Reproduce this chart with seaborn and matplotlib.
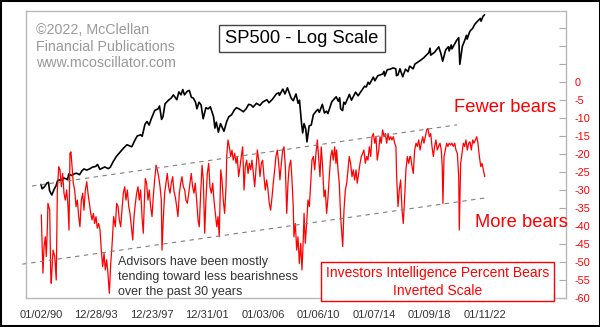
import matplotlib
matplotlib.use("Agg")
import matplotlib.pyplot as plt
from matplotlib.patches import Rectangle
import seaborn as sns
import pandas as pd

# ---------------- data ----------------
# Investors Intelligence % bears, inverted (decimal year, value)
bears_t = [
    1990.02, 1990.14, 1990.22, 1990.31, 1990.38, 1990.46, 1990.50, 1990.63, 1990.70, 1990.74,
    1990.87, 1990.99, 1991.10, 1991.18, 1991.28, 1991.37, 1991.47, 1991.56, 1991.66, 1991.75,
    1991.85, 1991.95, 1992.02, 1992.09, 1992.16, 1992.24, 1992.33, 1992.43, 1992.53, 1992.62,
    1992.72, 1992.81, 1992.91, 1993.01, 1993.10, 1993.20, 1993.30, 1993.39, 1993.49, 1993.59,
    1993.68, 1993.78, 1993.87, 1993.97, 1994.06, 1994.16, 1994.26, 1994.35, 1994.45, 1994.55,
    1994.64, 1994.74, 1994.83, 1994.93, 1995.03, 1995.12,
    1995.24, 1995.36, 1995.46, 1995.56, 1995.65, 1995.75, 1995.84, 1995.94, 1996.04, 1996.13,
    1996.23, 1996.33, 1996.42, 1996.52, 1996.62, 1996.71, 1996.81, 1996.90, 1997.00, 1997.09,
    1997.19, 1997.29, 1997.38, 1997.48, 1997.53, 1997.62, 1997.72, 1997.81, 1997.91, 1998.01,
    1998.10, 1998.20, 1998.30, 1998.39, 1998.49, 1998.59, 1998.68, 1998.73, 1998.82, 1998.92,
    1999.02, 1999.11, 1999.21, 1999.31, 1999.40, 1999.50, 1999.60, 1999.69, 1999.79, 1999.88,
    1999.98, 2000.08, 2000.17, 2000.27, 2000.37, 2000.46,
    2000.56, 2000.66, 2000.75, 2000.84, 2000.94, 2001.04, 2001.13, 2001.23, 2001.33, 2001.42,
    2001.52, 2001.62, 2001.71, 2001.81, 2001.90, 2002.00, 2002.10, 2002.19, 2002.29, 2002.39,
    2002.48, 2002.58, 2002.68, 2002.77, 2002.86, 2002.97, 2003.06, 2003.15, 2003.25, 2003.35,
    2003.40, 2003.49, 2003.59, 2003.69, 2003.78, 2003.87, 2003.98, 2004.07, 2004.16, 2004.26,
    2004.36, 2004.45, 2004.55, 2004.65, 2004.74, 2004.84, 2004.94, 2005.03, 2005.13, 2005.22,
    2005.32, 2005.42, 2005.51, 2005.61, 2005.71,
    2005.80, 2005.90, 2005.99, 2006.09, 2006.18, 2006.28, 2006.38, 2006.47, 2006.57, 2006.67,
    2006.76, 2006.86, 2006.95, 2007.05, 2007.15, 2007.24, 2007.34, 2007.44, 2007.53, 2007.63,
    2007.73, 2007.82, 2007.91, 2008.02, 2008.11, 2008.20, 2008.25, 2008.35, 2008.45, 2008.54,
    2008.64, 2008.74, 2008.83, 2008.93, 2008.98, 2009.07, 2009.17, 2009.26, 2009.36, 2009.46,
    2009.55, 2009.65, 2009.75, 2009.84, 2009.94, 2010.04, 2010.13, 2010.22, 2010.32, 2010.42,
    2010.51, 2010.61, 2010.71, 2010.80, 2010.90, 2011.00, 2011.09, 2011.19, 2011.28,
    2011.33, 2011.43, 2011.52, 2011.62, 2011.72, 2011.77, 2011.86, 2011.96, 2012.06, 2012.15,
    2012.24, 2012.34, 2012.44, 2012.53, 2012.63, 2012.73, 2012.82, 2012.92, 2013.02, 2013.11,
    2013.21, 2013.30, 2013.40, 2013.50, 2013.59, 2013.69, 2013.79, 2013.88, 2013.98, 2014.08,
    2014.17, 2014.26, 2014.37, 2014.46, 2014.55, 2014.65, 2014.75, 2014.84, 2014.94, 2015.04,
    2015.13, 2015.23, 2015.32, 2015.42, 2015.52, 2015.61, 2015.66, 2015.76, 2015.85, 2015.95,
    2016.05, 2016.14, 2016.24, 2016.33, 2016.43, 2016.53, 2016.62,
    2016.67, 2016.77, 2016.86, 2016.96, 2017.06, 2017.15, 2017.25, 2017.35, 2017.44, 2017.54,
    2017.63, 2017.73, 2017.83, 2017.92, 2018.02, 2018.12, 2018.21, 2018.31, 2018.40, 2018.50,
    2018.59, 2018.69, 2018.79, 2018.88, 2018.95, 2019.00, 2019.08, 2019.17, 2019.27, 2019.36,
    2019.46, 2019.56, 2019.65, 2019.75, 2019.85, 2019.94, 2020.04, 2020.14, 2020.18, 2020.23,
    2020.28, 2020.38, 2020.47, 2020.57, 2020.66, 2020.76, 2020.86, 2020.95, 2021.05, 2021.15,
    2021.24, 2021.34, 2021.44, 2021.53, 2021.63, 2021.73, 2021.82, 2021.92, 2022.02,
]
bears_v = [
    -36.9, -53.1, -45.7, -43.0, -48.5, -40.2, -33.7, -35.6, -53.1, -55.9,
    -46.7, -48.5, -55.0, -30.0, -23.5, -24.4, -29.1, -25.4, -30.9, -32.8,
    -30.0, -34.6, -41.1, -19.8, -19.4, -23.5, -28.1, -30.0, -34.6, -32.8,
    -37.4, -40.2, -32.8, -30.9, -35.6, -30.0, -27.7, -30.9, -33.7, -36.5,
    -38.3, -36.5, -39.3, -37.4, -40.6, -39.3, -41.1, -46.7, -51.3, -47.6,
    -52.2, -49.4, -53.1, -58.7, -50.4, -45.7,
    -37.4, -40.2, -33.7, -34.6, -38.3, -40.2, -35.6, -30.9, -29.1, -32.8,
    -30.0, -34.6, -36.5, -40.2, -43.9, -37.4, -33.7, -30.9, -29.1, -32.8,
    -30.0, -37.4, -42.0, -30.9, -26.8, -28.1, -32.8, -30.0, -34.6, -37.4,
    -31.9, -27.2, -23.1, -24.4, -26.3, -29.1, -32.8, -46.7, -38.3, -30.9,
    -28.1, -25.4, -29.1, -30.9, -28.1, -26.3, -30.5, -31.9, -34.6, -37.4,
    -30.9, -28.1, -26.3, -29.1, -30.0, -32.8,
    -33.7, -30.9, -28.1, -25.4, -29.1, -30.9, -28.1, -32.8, -38.3, -40.2,
    -30.9, -23.1, -27.2, -42.0, -32.8, -25.4, -22.6, -29.1, -30.9, -28.1,
    -32.8, -36.5, -40.2, -37.4, -43.0, -24.4, -27.2, -32.8, -36.5, -29.1,
    -20.7, -16.1, -18.0, -20.7, -18.9, -21.7, -19.8, -22.6, -20.7, -26.3,
    -23.5, -20.7, -18.0, -30.0, -23.5, -21.7, -25.4, -22.6, -24.4, -21.7,
    -25.4, -29.1, -24.4, -18.9, -21.7,
    -26.3, -22.6, -21.7, -26.3, -30.0, -27.2, -30.0, -33.7, -35.6, -31.9,
    -28.1, -24.4, -20.7, -18.9, -22.6, -27.2, -22.6, -18.9, -18.0, -23.5,
    -36.5, -28.1, -23.5, -21.7, -27.2, -34.6, -43.0, -39.3, -46.7, -43.0,
    -50.4, -44.8, -52.2, -43.0, -36.5, -44.8, -39.3, -32.8, -34.6, -28.1,
    -21.7, -20.7, -24.4, -19.8, -16.1, -21.7, -26.3, -18.0, -23.5, -31.9,
    -30.0, -36.5, -31.9, -26.3, -20.7, -18.9, -21.7, -18.0, -22.6,
    -18.9, -24.4, -28.1, -37.4, -43.0, -45.7, -35.6, -30.0, -28.1, -24.4,
    -20.7, -22.6, -26.3, -24.4, -27.2, -24.4, -28.1, -25.4, -22.6, -20.7,
    -19.8, -18.9, -22.6, -20.7, -21.7, -18.0, -20.7, -15.2, -14.3, -17.0,
    -15.2, -21.7, -18.9, -15.2, -17.0, -13.3, -15.2, -14.3, -17.0, -14.3,
    -16.1, -15.2, -16.1, -15.2, -17.0, -18.0, -26.3, -34.6, -30.0, -27.2,
    -35.6, -39.3, -31.9, -24.4, -20.7, -22.6, -20.7,
    -20.7, -23.5, -25.4, -18.9, -17.0, -17.9, -16.1, -18.9, -17.0, -15.2,
    -17.0, -15.2, -13.3, -12.9, -15.2, -14.3, -17.9, -20.7, -17.9, -16.1,
    -18.9, -17.9, -17.0, -18.9, -23.5, -33.7, -20.7, -18.9, -17.0, -17.9,
    -17.0, -17.5, -17.0, -17.9, -17.0, -18.9, -19.8, -26.3, -41.1, -31.9,
    -22.6, -19.8, -17.0, -17.9, -16.1, -18.9, -17.0, -16.6, -18.9, -16.1,
    -17.0, -16.1, -15.2, -17.0, -20.7, -23.5, -22.6, -24.4, -26.3,
]

# S&P 500 (decimal year, index level) - log scale
sp_t = [
    1990.00, 1990.08, 1990.25, 1990.42, 1990.54, 1990.62, 1990.78, 1990.95, 1991.08, 1991.20,
    1991.42, 1991.50, 1991.62, 1991.80, 1991.92, 1992.00, 1992.20, 1992.40, 1992.55, 1992.78,
    1992.95, 1993.10, 1993.30, 1993.50, 1993.70, 1993.95, 1994.08, 1994.25, 1994.45, 1994.60,
    1994.85, 1995.00, 1995.20, 1995.45, 1995.70, 1995.95, 1996.20, 1996.55, 1996.75, 1996.95,
    1997.20, 1997.30, 1997.50, 1997.65, 1997.80, 1997.95, 1998.20, 1998.45, 1998.55, 1998.70,
    1998.80, 1998.95, 1999.20, 1999.40, 1999.55, 1999.80, 1999.95, 2000.10, 2000.23, 2000.35,
    2000.55, 2000.70, 2000.85, 2001.00, 2001.15, 2001.25, 2001.40, 2001.55, 2001.70, 2001.90,
    2002.05, 2002.22, 2002.45, 2002.55, 2002.65, 2002.80, 2002.95, 2003.10, 2003.20, 2003.40,
    2003.55, 2003.75, 2003.95, 2004.10, 2004.35, 2004.60, 2004.80, 2004.98, 2005.15, 2005.30,
    2005.55, 2005.80, 2005.98, 2006.30, 2006.45, 2006.70, 2006.98, 2007.15, 2007.20, 2007.45,
    2007.60, 2007.78, 2007.90, 2008.05, 2008.20, 2008.40, 2008.55, 2008.65, 2008.80, 2008.88,
    2008.98, 2009.10, 2009.19, 2009.35, 2009.50, 2009.65, 2009.85, 2009.98, 2010.08, 2010.30,
    2010.45, 2010.60, 2010.70, 2010.98, 2011.30, 2011.45, 2011.55, 2011.62, 2011.76, 2011.85,
    2011.95, 2012.25, 2012.40, 2012.70, 2012.88, 2012.98, 2013.35, 2013.47, 2013.60, 2013.70,
    2013.98, 2014.09, 2014.30, 2014.65, 2014.75, 2014.80, 2014.98, 2015.20, 2015.40, 2015.60,
    2015.65, 2015.75, 2015.90, 2016.10, 2016.30, 2016.48, 2016.60, 2016.85, 2016.98, 2017.40,
    2017.60, 2017.98, 2018.07, 2018.12, 2018.40, 2018.70, 2018.85, 2018.98, 2019.20, 2019.40,
    2019.45, 2019.60, 2019.65, 2019.85, 2019.98, 2020.14, 2020.22, 2020.40, 2020.55, 2020.70,
    2020.75, 2020.90, 2020.98, 2021.15, 2021.30, 2021.50, 2021.70, 2021.75, 2021.90, 2022.00,
]
sp_v = [
    353, 330, 340, 360, 365, 320, 300, 328, 345, 375,
    380, 370, 390, 385, 380, 415, 405, 415, 420, 410,
    435, 448, 440, 448, 460, 466, 480, 445, 455, 462,
    450, 460, 500, 545, 580, 616, 650, 630, 690, 745,
    757, 740, 890, 930, 880, 965, 1100, 1130, 1180, 960,
    1000, 1220, 1290, 1335, 1400, 1300, 1465, 1400, 1520, 1400,
    1480, 1500, 1350, 1330, 1250, 1130, 1250, 1200, 970, 1150,
    1130, 1165, 1000, 840, 920, 790, 900, 840, 800, 930,
    1000, 1030, 1110, 1150, 1120, 1080, 1130, 1210, 1200, 1160,
    1230, 1190, 1250, 1300, 1240, 1310, 1420, 1450, 1390, 1530,
    1420, 1560, 1450, 1330, 1280, 1420, 1230, 1290, 900, 780,
    900, 830, 680, 870, 880, 1030, 1090, 1120, 1070, 1210,
    1060, 1090, 1050, 1260, 1360, 1270, 1340, 1130, 1100, 1250,
    1215, 1410, 1290, 1460, 1380, 1426, 1600, 1580, 1700, 1650,
    1840, 1740, 1880, 1930, 2010, 1870, 2060, 2080, 2120, 2090,
    1880, 1900, 2090, 1850, 2080, 2000, 2180, 2090, 2250, 2390,
    2470, 2680, 2870, 2580, 2700, 2930, 2650, 2350, 2800, 2940,
    2750, 3020, 2840, 3070, 3230, 3380, 2240, 2950, 3200, 3500,
    3300, 3640, 3760, 3900, 4150, 4350, 4540, 4350, 4700, 4796,
]

# x-axis tick labels and their dates (decimal years)
xtick_labels = ["01/02/90", "12/28/93", "12/23/97", "12/31/01", "01/03/06",
                "01/06/10", "01/07/14", "01/09/18", "01/11/22"]
xtick_pos = [1990.00, 1993.99, 1997.98, 2002.00, 2006.01,
             2010.02, 2014.02, 2018.02, 2022.03]
ytick_vals = [-60, -55, -50, -45, -40, -35, -30, -25, -20, -15, -10, -5, 0, 5, 10, 15]

# trend channel (decimal year, inverted bears value)
upper_t = [1989.35, 2020.01]
upper_v = [-28.9, -11.9]
lower_t = [1988.65, 2022.25]
lower_v = [-50.6, -32.1]

# ---------------- figure ----------------
sns.set_style("white")
plt.rcParams["font.family"] = ["Liberation Sans", "DejaVu Sans"]

W, H = 600, 327
fig = plt.figure(figsize=(W / 100, H / 100), dpi=100)
fig.patch.set_facecolor("white")


def fx(x):
    return x / W


def fy(y):
    return 1 - y / H


left, right, top, bottom = 25.7, 566.0, 11.0, 298.0
ax = fig.add_axes([fx(left), fy(bottom), fx(right) - fx(left), fy(top) - fy(bottom)])
ax2 = ax.twinx()
ax.set_zorder(2)
ax2.set_zorder(1)
ax.patch.set_visible(False)

# S&P 500 on log axis
ax2.set_yscale("log")
sp_df = pd.DataFrame({"t": sp_t, "v": sp_v})
sns.lineplot(data=sp_df, x="t", y="v", ax=ax2, color="black", linewidth=1.2,
             estimator=None, sort=False)
ax2.set_ylim(61.5, 5089)
ax2.set_yticks([])
ax2.minorticks_off()
ax2.set_ylabel("")
ax2.set_xlabel("")
for s in ax2.spines.values():
    s.set_visible(False)

# Bears inverted on linear axis
b_df = pd.DataFrame({"t": bears_t, "v": bears_v})
sns.lineplot(data=b_df, x="t", y="v", ax=ax, color="#ff0000", linewidth=0.9,
             estimator=None, sort=False)
ax.plot(upper_t, upper_v, color="#808080", linewidth=0.8, linestyle=(0, (4, 4)))
ax.plot(lower_t, lower_v, color="#808080", linewidth=0.8, linestyle=(0, (4, 4)),
        clip_on=False)

ax.set_xlim(1988.896, 2027.88)
ax.set_ylim(-60, 19.72)
ax.set_xlabel("")
ax.set_ylabel("")
ax.yaxis.tick_right()
ax.set_yticks(ytick_vals, [str(v) if v <= 0 else "" for v in ytick_vals])
ax.tick_params(axis="y", which="both", direction="in", length=5, width=0.8,
               color="#aaaaaa", labelcolor="#ff0000", labelsize=7.8, pad=6,
               left=False, right=True, labelleft=False, labelright=True)
ax.set_xticks(xtick_pos, xtick_labels)
ax.tick_params(axis="x", length=0, labelsize=8, labelcolor="#333333", pad=9)
for s in ax.spines.values():
    s.set_color("#b8b8b8")
    s.set_linewidth(1.0)

# ---------------- annotations ----------------
for txt, yb in [("\u00a92022, McClellan", 34.3),
                ("Financial Publications", 50.8),
                ("www.mcoscillator.com", 67.3)]:
    fig.text(fx(36.5), fy(yb), txt, color="#999999", fontsize=10.3,
             ha="left", va="baseline")

fig.patches.append(Rectangle((fx(218.5), fy(52)), fx(385) - fx(218.5), fy(25) - fy(52),
                             transform=fig.transFigure, facecolor="white",
                             edgecolor="#444444", linewidth=1.0, zorder=5))
fig.text(fx(301.5), fy(43.3), "SP500 - Log Scale", color="black", fontsize=13.2,
         ha="center", va="baseline", zorder=6)

fig.text(fx(505), fy(111.7), "Fewer bears", color="#ff0000", fontsize=13.2,
         ha="center", va="baseline", zorder=6)
fig.text(fx(521.5), fy(226.7), "More bears", color="#ff0000", fontsize=13.2,
         ha="center", va="baseline", zorder=6)

for txt, yb in [("Advisors have been mostly", 265.0),
                ("tending toward less bearishness", 280.0),
                ("over the past 30 years", 295.0)]:
    fig.text(fx(118.3), fy(yb), txt, color="#333333", fontsize=9.0,
             ha="left", va="baseline", zorder=6)

fig.patches.append(Rectangle((fx(320.7), fy(301)), fx(554) - fx(320.7), fy(261.7) - fy(301),
                             transform=fig.transFigure, facecolor="white",
                             edgecolor="#ff0000", linewidth=1.0, zorder=5))
fig.text(fx(437.5), fy(277.3), "Investors Intelligence Percent Bears", color="#ff0000",
         fontsize=10.0, ha="center", va="baseline", zorder=6)
fig.text(fx(437.5), fy(295.0), "Inverted Scale", color="#ff0000",
         fontsize=10.0, ha="center", va="baseline", zorder=6)

# outer black frame
fig.patches.append(Rectangle((0, fy(325.5)), 1, 1 - fy(325.5), transform=fig.transFigure,
                             facecolor="none", edgecolor="black", linewidth=2.2, zorder=10))

fig.savefig("out.png", dpi=100)
